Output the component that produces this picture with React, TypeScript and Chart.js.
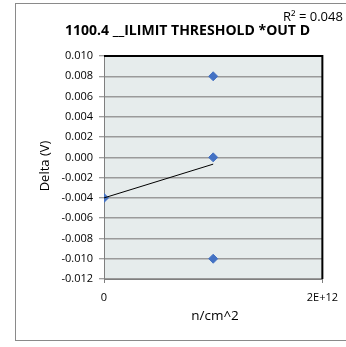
import React, { useEffect, useRef } from "react";
import { Chart, registerables } from "chart.js";

Chart.register(...registerables);

const xValues = [0, 1e12, 1e12, 1e12];
const yValues = [-0.004, 0.008, 0.0, -0.01];
const trendX = [0, 1e12];
const trendY = [-0.004, -0.00067];
const xTicks = [0, 2e12];
const xTickLabels = ["0", "2E+12"];
const yMin = -0.012;
const yMax = 0.01;
const yStep = 0.002;
const titleText = "1100.4 __ILIMIT THRESHOLD *OUT D";
const r2Text = "R² = 0.048";
const xTitle = "n/cm^2";
const yTitle = "Delta (V)";

const FONT = "'Open Sans', 'Liberation Sans', sans-serif";

export default function App() {
  const ref = useRef<HTMLCanvasElement | null>(null);
  useEffect(() => {
    if (!ref.current) return;
    const decor = {
      id: "decor",
      beforeDraw(chart: any) {
        const { ctx, chartArea: a } = chart;
        ctx.save();
        ctx.fillStyle = "#E6ECEC";
        ctx.fillRect(a.left, a.top, a.right - a.left, a.bottom - a.top);
        ctx.restore();
      },
      afterDraw(chart: any) {
        const { ctx, chartArea: a } = chart;
        ctx.save();
        // plot border top/right
        ctx.strokeStyle = "#000";
        ctx.lineWidth = 2;
        ctx.beginPath();
        ctx.moveTo(a.left, a.top);
        ctx.lineTo(a.right, a.top);
        ctx.lineTo(a.right, a.bottom);
        ctx.stroke();
        // outer border
        ctx.strokeStyle = "#8a8a8a";
        ctx.lineWidth = 1;
        ctx.strokeRect(15.5, 3.5, 360, 337);
        // title
        ctx.fillStyle = "#000";
        ctx.font = "bold 15px " + FONT;
        ctx.textBaseline = "alphabetic";
        ctx.textAlign = "center";
        const w = ctx.measureText(titleText).width;
        const sx = 245 / w;
        ctx.save();
        ctx.translate(187.5, 35);
        ctx.scale(sx, 1);
        ctx.fillText(titleText, 0, 0);
        ctx.restore();
        // R2
        ctx.font = "13px " + FONT;
        ctx.textAlign = "left";
        ctx.fillText(r2Text, 283, 21);
        // x title
        ctx.font = "13.5px " + FONT;
        ctx.textAlign = "center";
        ctx.textBaseline = "middle";
        ctx.fillText(xTitle, 215, 316);
        // y title
        ctx.save();
        ctx.translate(45, 166);
        ctx.rotate(-Math.PI / 2);
        ctx.font = "13px " + FONT;
        ctx.fillText(yTitle, 0, 0);
        ctx.restore();
        ctx.restore();
      },
    };
    const chart = new Chart(ref.current, {
      type: "scatter",
      data: {
        datasets: [
          {
            type: "line",
            data: trendX.map((x, i) => ({ x, y: trendY[i] })),
            borderColor: "#000",
            borderWidth: 1,
            pointRadius: 0,
            fill: false,
          } as any,
          {
            data: xValues.map((x, i) => ({ x, y: yValues[i] })),
            backgroundColor: "#4472C4",
            borderColor: "#4472C4",
            pointStyle: "rectRot",
            pointRadius: 4.5,
            borderWidth: 1,
          },
        ],
      },
      options: {
        animation: false,
        responsive: false,
        layout: { padding: { top: 56, right: 18, bottom: 0, left: 0 } },
        plugins: { legend: { display: false }, title: { display: false }, tooltip: { enabled: false } },
        scales: {
          x: {
            type: "linear",
            min: 0,
            max: 2e12,
            afterFit: (s: any) => { s.height = 68; },
            afterBuildTicks: (s: any) => { s.ticks = xTicks.map((v) => ({ value: v })); },
            ticks: {
              autoSkip: false,
              maxRotation: 0,
              padding: 8,
              color: "#000",
              font: { family: FONT, size: 11 },
              callback: (v: any) => {
                const i = xTicks.indexOf(Number(v));
                return i >= 0 ? xTickLabels[i] : "";
              },
            },
            grid: { drawOnChartArea: false, drawTicks: true, tickLength: 4, tickColor: "#7f7f7f" },
            border: { display: true, color: "#7f7f7f", width: 1 },
          },
          y: {
            type: "linear",
            min: yMin,
            max: yMax,
            afterFit: (s: any) => { s.width = 104; },
            ticks: {
              stepSize: yStep,
              autoSkip: false,
              padding: 6,
              color: "#000",
              font: { family: FONT, size: 11 },
              callback: (v: any) => {
                const n = Number(v);
                return Math.abs(n) < 1e-9 ? "0.000" : n.toFixed(3);
              },
            },
            grid: { color: "#9a9a9a", lineWidth: 1.5, drawTicks: true, tickLength: 5, tickColor: "#7f7f7f", tickWidth: 1 },
            border: { display: true, color: "#7f7f7f", width: 1 },
          },
        },
      },
      plugins: [decor],
    } as any);
    return () => chart.destroy();
  }, []);
  return (
    <div style={{ position: "fixed", left: 0, top: 0, width: 346, height: 347, background: "#fff" }}>
      <canvas ref={ref} width={346} height={347} style={{ display: "block" }} />
    </div>
  );
}
